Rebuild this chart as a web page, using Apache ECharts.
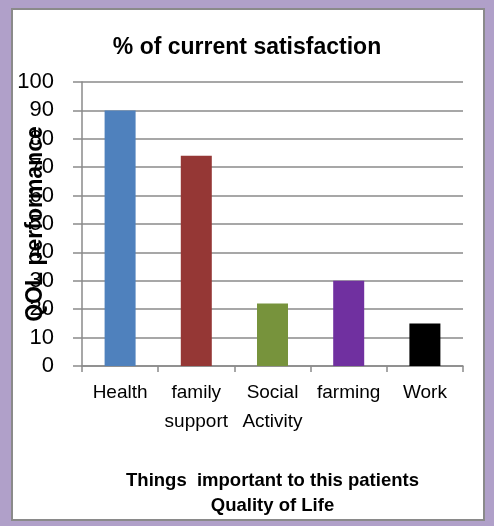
<!DOCTYPE html>
<html>
<head>
<meta charset="utf-8">
<script src="https://cdn.jsdelivr.net/npm/echarts@6/dist/echarts.min.js"></script>
<style>
html,body{margin:0;padding:0;background:#B0A0C9;}
#chart{width:494px;height:526px;}
</style>
</head>
<body>
<div id="chart"></div>
<script>
const categories = ['Health', 'family\nsupport', 'Social\nActivity', 'farming', 'Work'];
const values = [90, 74, 22, 30, 15];
const yTicks = { min: 0, max: 100, interval: 10 };
const titleText = '% of current satisfaction';
const xAxisTitle = 'Things  important to this patients\nQuality of Life';
const yAxisTitle = 'QOL performance';
const barColors = ['#4F81BD', '#953735', '#77933C', '#7030A0', '#000000'];

const chart = echarts.init(document.getElementById('chart'), null, { renderer: 'canvas' });
const font = 'Liberation Sans, Arial, sans-serif';
chart.setOption({
  backgroundColor: '#B0A0C9',
  animation: false,
  color: barColors,
  graphic: [{
    type: 'rect', z: -10, silent: true,
    shape: { x: 12, y: 9, width: 472, height: 511 },
    style: { fill: '#ffffff', stroke: '#8a8a8a', lineWidth: 2 }
  }],
  title: {
    text: titleText, left: 'center', top: 31,
    textStyle: { fontFamily: font, fontSize: 23, fontWeight: 'bold', color: '#000' }
  },
  grid: { left: 82, right: 31, top: 82, bottom: 160, containLabel: false, outerBoundsMode: 'none' },
  xAxis: {
    type: 'category',
    data: categories,
    name: xAxisTitle,
    nameLocation: 'middle',
    nameGap: 102,
    nameMoveOverlap: false,
    nameTextStyle: { fontFamily: font, fontSize: 18.5, fontWeight: 'bold', color: '#000', lineHeight: 25 },
    axisLine: { lineStyle: { color: '#8a8a8a', width: 1.5 } },
    axisTick: { show: true, length: 6, lineStyle: { color: '#8a8a8a', width: 1.5 } },
    axisLabel: { fontFamily: font, fontSize: 19, color: '#000', margin: 12, lineHeight: 29, interval: 0 }
  },
  yAxis: {
    type: 'value',
    min: yTicks.min, max: yTicks.max, interval: yTicks.interval,
    name: yAxisTitle,
    nameLocation: 'middle',
    nameGap: 35,
    nameRotate: 90,
    nameMoveOverlap: false,
    nameTextStyle: { fontFamily: font, fontSize: 23, fontWeight: 'bold', color: '#000' },
    axisLine: { show: true, lineStyle: { color: '#8a8a8a', width: 1.5 } },
    axisTick: { show: true, length: 9, lineStyle: { color: '#8a8a8a', width: 1.5 } },
    splitLine: { lineStyle: { color: '#8a8a8a', width: 1.5 } },
    axisLabel: { fontFamily: font, fontSize: 22, color: '#000', margin: 28 }
  },
  series: [{
    type: 'bar',
    data: values,
    colorBy: 'data',
    barWidth: 31
  }]
});
</script>
</body>
</html>
